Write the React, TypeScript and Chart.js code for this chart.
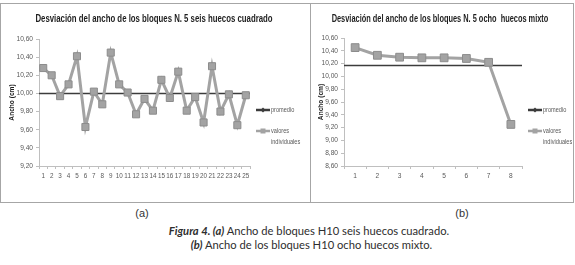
import React, { useEffect, useRef } from 'react';
import { Chart, registerables } from 'chart.js';

Chart.register(...registerables);

// ---------- data ----------
const LABELS_A = ['1', '2', '3', '4', '5', '6', '7', '8', '9', '10', '11', '12', '13', '14', '15', '16', '17', '18', '19', '20', '21', '22', '23', '24', '25'];
const VALORES_A = [10.28, 10.2, 9.97, 10.1, 10.41, 9.63, 10.02, 9.88, 10.45, 10.1, 10.01, 9.77, 9.94, 9.81, 10.15, 9.95, 10.24, 9.81, 9.96, 9.68, 10.3, 9.8, 9.99, 9.65, 9.98];
const PROMEDIO_A = 10.0;
const Y_RANGE_A = [9.2, 10.6];

const LABELS_B = ['1', '2', '3', '4', '5', '6', '7', '8'];
const VALORES_B = [10.45, 10.33, 10.3, 10.29, 10.29, 10.28, 10.22, 9.25];
const PROMEDIO_B = 10.17;
const Y_RANGE_B = [8.6, 10.6];

const Y_STEP = 0.2;
const TITLE_A = 'Desviación del ancho de los bloques N. 5 seis huecos cuadrado';
const TITLE_B = 'Desviación del ancho de los bloques N. 5 ocho  huecos mixto';
const Y_TITLE = 'Ancho (cm)';
const LEGEND_PROMEDIO = 'promedio';
const LEGEND_VALORES = ['valores', 'individuales'];

// ---------- styles ----------
const SANS = "'Liberation Sans', Arial, sans-serif";
const SERIES_GREY = '#a3a3a3';
const MARKER_BORDER = '#8c8c8c';
const AVG_COLOR = '#3c3c3c';
const AXIS_COLOR = '#bfbfbf';
const TICK_TEXT = '#595959';

function condensedText(ctx: any, text: string, x: number, y: number, sx: number) {
  ctx.save();
  ctx.translate(x, y);
  ctx.scale(sx, 1);
  ctx.fillText(text, 0, 0);
  ctx.restore();
}

const overlayPlugin = {
  id: 'overlay',
  beforeDatasetsDraw(chart: any, _args: any, opts: any) {
    const { ctx, chartArea, scales } = chart;
    const y = scales.y.getPixelForValue(opts.promedio);
    ctx.save();
    ctx.strokeStyle = AVG_COLOR;
    ctx.lineWidth = 1.5;
    ctx.beginPath();
    ctx.moveTo(chartArea.left, y);
    ctx.lineTo(chartArea.right, y);
    ctx.stroke();
    ctx.restore();
  },
  afterDraw(chart: any, _args: any, opts: any) {
    const { ctx, chartArea } = chart;
    // title
    ctx.save();
    ctx.font = `bold 10px ${SANS}`;
    ctx.fillStyle = '#1e1e1e';
    ctx.textAlign = 'center';
    ctx.textBaseline = 'middle';
    condensedText(ctx, opts.title, opts.titleX, opts.titleY, opts.titleScale);
    ctx.restore();
    // legend
    const x0 = chartArea.right + opts.lx;
    const x1 = x0 + 14;
    const tx = x1 + 1;
    ctx.save();
    ctx.font = `7px ${SANS}`;
    ctx.textBaseline = 'middle';
    ctx.textAlign = 'left';
    let y = opts.y1;
    ctx.strokeStyle = AVG_COLOR;
    ctx.lineWidth = 2.5;
    ctx.beginPath();
    ctx.moveTo(x0, y);
    ctx.lineTo(x1, y);
    ctx.stroke();
    ctx.fillStyle = AVG_COLOR;
    ctx.beginPath();
    ctx.moveTo(x0 + 7, y - 2.5);
    ctx.lineTo(x0 + 9.5, y);
    ctx.lineTo(x0 + 7, y + 2.5);
    ctx.lineTo(x0 + 4.5, y);
    ctx.closePath();
    ctx.fill();
    ctx.fillStyle = TICK_TEXT;
    condensedText(ctx, LEGEND_PROMEDIO, tx, y, 0.8);
    y = opts.y2;
    ctx.strokeStyle = SERIES_GREY;
    ctx.lineWidth = 2.5;
    ctx.beginPath();
    ctx.moveTo(x0, y);
    ctx.lineTo(x1, y);
    ctx.stroke();
    ctx.fillStyle = SERIES_GREY;
    ctx.fillRect(x0 + 4.5, y - 2.5, 5, 5);
    ctx.fillStyle = TICK_TEXT;
    condensedText(ctx, LEGEND_VALORES[0], tx, y, 0.8);
    condensedText(ctx, LEGEND_VALORES[1], tx, y + opts.lineGap, 0.8);
    ctx.restore();
  },
};

type PanelProps = {
  labels: string[];
  valores: number[];
  promedio: number;
  yRange: number[];
  title: string;
  titleX: number;
  titleScale: number;
  left: number;
  width: number;
  areaLeft: number;
  areaRight: number;
  areaTop: number;
  pointRadius: number;
  xFont: number;
};

function ChartPanel(p: PanelProps) {
  const ref = useRef<HTMLCanvasElement | null>(null);
  useEffect(() => {
    if (!ref.current) return;
    const H = 197;
    const areaBottom = 162;
    const chart = new Chart(ref.current, {
      type: 'line',
      data: {
        labels: p.labels,
        datasets: [
          {
            label: 'valores individuales',
            data: p.valores,
            borderColor: SERIES_GREY,
            backgroundColor: SERIES_GREY,
            borderWidth: 3,
            pointStyle: 'rect',
            pointRadius: p.pointRadius,
            pointBackgroundColor: SERIES_GREY,
            pointBorderColor: MARKER_BORDER,
            pointBorderWidth: 1,
            tension: 0,
          },
        ],
      },
      options: {
        animation: false,
        responsive: false,
        maintainAspectRatio: false,
        layout: { padding: { top: p.areaTop, left: 0, right: 0, bottom: 0 } },
        plugins: {
          legend: { display: false },
          tooltip: { enabled: false },
          title: { display: false },
          overlay: {
            promedio: p.promedio, lx: 6, y1: 106, y2: 127, lineGap: 11,
            title: p.title, titleX: p.titleX, titleY: 15, titleScale: p.titleScale,
          },
        } as any,
        scales: {
          x: {
            type: 'category',
            offset: true,
            grid: { display: true, drawOnChartArea: false, drawTicks: true, tickLength: 3, color: AXIS_COLOR, offset: true },
            border: { display: true, color: AXIS_COLOR, width: 1 },
            ticks: { autoSkip: false, maxRotation: 0, minRotation: 0, padding: 3, color: TICK_TEXT, font: { family: SANS, size: p.xFont } },
            afterFit: (s: any) => { s.height = H - areaBottom; },
          },
          y: {
            type: 'linear',
            position: 'left',
            min: p.yRange[0],
            max: p.yRange[1],
            grid: { display: true, drawOnChartArea: false, drawTicks: true, tickLength: 3, color: AXIS_COLOR },
            border: { display: true, color: AXIS_COLOR, width: 1 },
            ticks: {
              stepSize: Y_STEP,
              padding: 3,
              color: TICK_TEXT,
              font: { family: SANS, size: 6.6 },
              callback: (v: any) => Number(v).toFixed(2).replace('.', ','),
            },
            title: {
              display: true,
              text: Y_TITLE,
              color: '#1e1e1e',
              font: { family: SANS, size: 6.6, weight: 'bold', lineHeight: 1.2 },
              padding: { top: 6, bottom: 0 },
            },
            afterFit: (s: any) => { s.width = p.areaLeft; },
          },
          yR: {
            type: 'linear',
            position: 'right',
            display: true,
            grid: { display: false },
            border: { display: false },
            ticks: { display: false },
            afterFit: (s: any) => { s.width = p.width - p.areaRight; },
          },
        },
      } as any,
      plugins: [overlayPlugin],
    });
    return () => chart.destroy();
  }, []);
  return (
    <canvas
      ref={ref}
      width={p.width}
      height={197}
      style={{ position: 'absolute', left: p.left, top: 4, width: p.width, height: 197 }}
    />
  );
}

export default function App() {
  const capColor = '#2e2e2e';
  const capFont = "Lato, 'Open Sans', sans-serif";
  return (
    <div style={{ position: 'absolute', left: 0, top: 0, width: 575, height: 265, background: '#fff', overflow: 'hidden' }}>
      <div style={{ position: 'absolute', left: 0, top: 3, width: 572, height: 198, border: '1px solid #a6a6a6' }} />
      <div style={{ position: 'absolute', left: 310, top: 3, width: 1, height: 200, background: '#a6a6a6' }} />
      <ChartPanel
        labels={LABELS_A}
        valores={VALORES_A}
        promedio={PROMEDIO_A}
        yRange={Y_RANGE_A}
        title={TITLE_A}
        titleX={152}
        titleScale={0.78}
        left={2}
        width={307}
        areaLeft={37}
        areaRight={248}
        areaTop={35}
        pointRadius={5}
        xFont={6.3}
      />
      <ChartPanel
        labels={LABELS_B}
        valores={VALORES_B}
        promedio={PROMEDIO_B}
        yRange={Y_RANGE_B}
        title={TITLE_B}
        titleX={129}
        titleScale={0.74}
        left={311}
        width={261}
        areaLeft={33}
        areaRight={211}
        areaTop={34}
        pointRadius={5.5}
        xFont={6.6}
      />
      <div style={{ position: 'absolute', left: 122, top: 205, width: 40, textAlign: 'center', font: `11px ${SANS}`, color: '#333', lineHeight: '16px' }}>(a)</div>
      <div style={{ position: 'absolute', left: 442, top: 205, width: 40, textAlign: 'center', font: `11px ${SANS}`, color: '#333', lineHeight: '16px' }}>(b)</div>
      <div style={{ position: 'absolute', left: 0, top: 224, width: 618, textAlign: 'center', fontFamily: capFont, fontSize: 11.2, color: capColor, lineHeight: '14px', whiteSpace: 'nowrap' }}>
        <b><i>Figura 4. (a)</i></b> Ancho de bloques H10 seis huecos cuadrado.
      </div>
      <div style={{ position: 'absolute', left: 0, top: 238, width: 623, textAlign: 'center', fontFamily: capFont, fontSize: 11.2, color: capColor, lineHeight: '14px', whiteSpace: 'nowrap' }}>
        <b><i>(b)</i></b> Ancho de los bloques H10 ocho huecos mixto.
      </div>
    </div>
  );
}
